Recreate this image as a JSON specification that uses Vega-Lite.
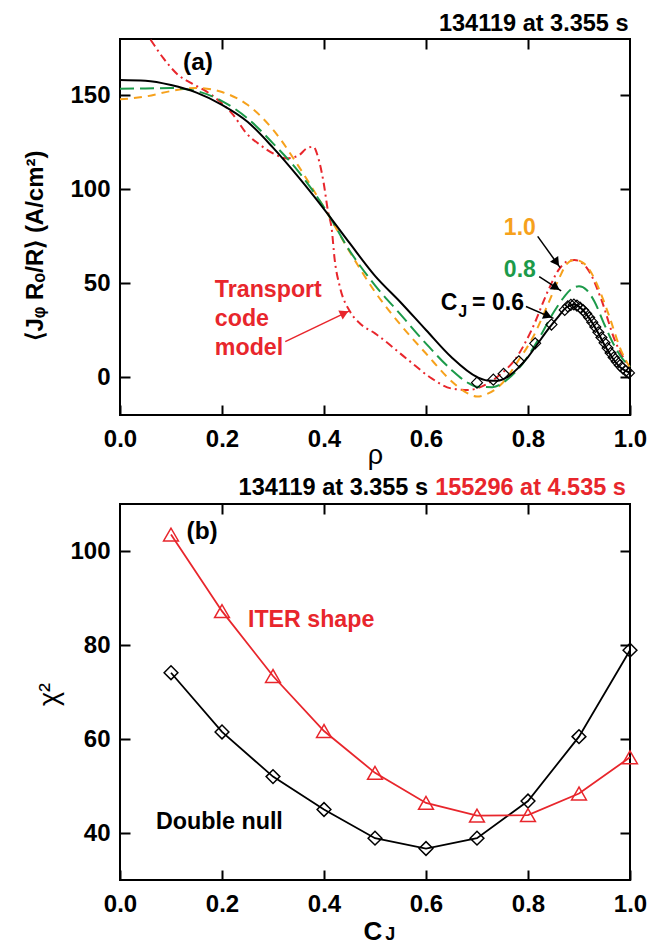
{
  "$schema": "https://vega.github.io/schema/vega-lite/v6.json",
  "background": "white",
  "padding": {"left": 22, "top": 11, "right": 15, "bottom": 0},
  "bounds": "flush",
  "spacing": 89,
  "datasets": {
    "transport": [
      {"rho": 0.04, "j": 187.5}, {"rho": 0.059, "j": 180}, {"rho": 0.085, "j": 169.8}, {"rho": 0.114, "j": 160.9},
      {"rho": 0.14, "j": 156.5}, {"rho": 0.17, "j": 152}, {"rho": 0.196, "j": 146.7}, {"rho": 0.222, "j": 139.6},
      {"rho": 0.248, "j": 129.8}, {"rho": 0.275, "j": 123.6}, {"rho": 0.3, "j": 119.2}, {"rho": 0.327, "j": 116.5},
      {"rho": 0.35, "j": 118}, {"rho": 0.366, "j": 121.8}, {"rho": 0.379, "j": 122.7}, {"rho": 0.389, "j": 116.5},
      {"rho": 0.399, "j": 104}, {"rho": 0.408, "j": 88.1}, {"rho": 0.415, "j": 79.2}, {"rho": 0.421, "j": 62.5},
      {"rho": 0.431, "j": 48.3}, {"rho": 0.451, "j": 35}, {"rho": 0.47, "j": 28.8}, {"rho": 0.5, "j": 23.4},
      {"rho": 0.565, "j": 9.3}, {"rho": 0.611, "j": -0.5}, {"rho": 0.65, "j": -5.9}, {"rho": 0.683, "j": -6.7},
      {"rho": 0.716, "j": -4}, {"rho": 0.748, "j": 2.1}, {"rho": 0.774, "j": 9.3}, {"rho": 0.807, "j": 25.2},
      {"rho": 0.84, "j": 46.5}, {"rho": 0.86, "j": 57.2}, {"rho": 0.876, "j": 61.6}, {"rho": 0.891, "j": 62.5},
      {"rho": 0.918, "j": 57.2}, {"rho": 0.944, "j": 41.2}, {"rho": 0.97, "j": 19.9}, {"rho": 1.0, "j": 5}
    ],
    "cj10": [
      {"rho": 0, "j": 147.9}, {"rho": 0.05, "j": 149.4}, {"rho": 0.1, "j": 152.3}, {"rho": 0.15, "j": 154},
      {"rho": 0.2, "j": 151.8}, {"rho": 0.25, "j": 145}, {"rho": 0.3, "j": 131.8}, {"rho": 0.35, "j": 112.4},
      {"rho": 0.4, "j": 90.3}, {"rho": 0.45, "j": 67}, {"rho": 0.5, "j": 45.5}, {"rho": 0.55, "j": 28},
      {"rho": 0.6, "j": 12.7}, {"rho": 0.65, "j": -2}, {"rho": 0.68, "j": -8.2}, {"rho": 0.7, "j": -10.2},
      {"rho": 0.72, "j": -8.8}, {"rho": 0.75, "j": -3}, {"rho": 0.78, "j": 8.5}, {"rho": 0.81, "j": 21.5},
      {"rho": 0.84, "j": 39.5}, {"rho": 0.86, "j": 52}, {"rho": 0.875, "j": 60}, {"rho": 0.89, "j": 62.5},
      {"rho": 0.905, "j": 61.5}, {"rho": 0.92, "j": 57.5}, {"rho": 0.94, "j": 46.5}, {"rho": 0.96, "j": 32},
      {"rho": 0.98, "j": 16}, {"rho": 1.0, "j": 5}
    ],
    "cj08": [
      {"rho": 0, "j": 153.6}, {"rho": 0.05, "j": 153.7}, {"rho": 0.1, "j": 153.9}, {"rho": 0.15, "j": 152.3},
      {"rho": 0.2, "j": 147}, {"rho": 0.25, "j": 137.8}, {"rho": 0.3, "j": 124.5}, {"rho": 0.35, "j": 109.5},
      {"rho": 0.4, "j": 90.5}, {"rho": 0.45, "j": 67.5}, {"rho": 0.5, "j": 49}, {"rho": 0.55, "j": 33.5},
      {"rho": 0.6, "j": 18}, {"rho": 0.65, "j": 4}, {"rho": 0.68, "j": -2.5}, {"rho": 0.7, "j": -5},
      {"rho": 0.73, "j": -5.2}, {"rho": 0.76, "j": -1}, {"rho": 0.79, "j": 7.5}, {"rho": 0.82, "j": 20},
      {"rho": 0.85, "j": 34.5}, {"rho": 0.87, "j": 42.5}, {"rho": 0.885, "j": 47}, {"rho": 0.9, "j": 48.5},
      {"rho": 0.915, "j": 46.5}, {"rho": 0.93, "j": 40.5}, {"rho": 0.95, "j": 28}, {"rho": 0.97, "j": 16.5},
      {"rho": 0.985, "j": 10}, {"rho": 1.0, "j": 5.7}
    ],
    "cj06": [
      {"rho": 0, "j": 158.2}, {"rho": 0.05, "j": 157.8}, {"rho": 0.1, "j": 155.5}, {"rho": 0.15, "j": 151.5},
      {"rho": 0.2, "j": 145}, {"rho": 0.25, "j": 136}, {"rho": 0.3, "j": 122.2}, {"rho": 0.35, "j": 106.5},
      {"rho": 0.4, "j": 89.5}, {"rho": 0.45, "j": 71.5}, {"rho": 0.5, "j": 54}, {"rho": 0.55, "j": 40},
      {"rho": 0.6, "j": 25.2}, {"rho": 0.65, "j": 10.7}, {"rho": 0.7, "j": 0.2}, {"rho": 0.72, "j": -1.6},
      {"rho": 0.74, "j": -1.8}, {"rho": 0.76, "j": 0.3}, {"rho": 0.78, "j": 4.8}, {"rho": 0.8, "j": 10.8},
      {"rho": 0.82, "j": 18.3}, {"rho": 0.84, "j": 25.8}, {"rho": 0.86, "j": 32.5}, {"rho": 0.875, "j": 37.2},
      {"rho": 0.89, "j": 38.8}, {"rho": 0.905, "j": 36.5}, {"rho": 0.92, "j": 31.5}, {"rho": 0.935, "j": 25},
      {"rho": 0.95, "j": 17.2}, {"rho": 0.965, "j": 10.6}, {"rho": 0.98, "j": 5.6}, {"rho": 1.0, "j": 2.5}
    ],
    "measured": [
      {"rho": 0.7, "j": -2.8}, {"rho": 0.732, "j": -1.2}, {"rho": 0.752, "j": 1.9}, {"rho": 0.782, "j": 8.6},
      {"rho": 0.814, "j": 18.1}, {"rho": 0.846, "j": 28.1}, {"rho": 0.872, "j": 35.9}, {"rho": 0.878, "j": 37.8},
      {"rho": 0.884, "j": 38.6}, {"rho": 0.89, "j": 38.8}, {"rho": 0.896, "j": 38.2}, {"rho": 0.902, "j": 37.2},
      {"rho": 0.908, "j": 35.8}, {"rho": 0.914, "j": 34.0}, {"rho": 0.92, "j": 31.8}, {"rho": 0.926, "j": 29.4},
      {"rho": 0.932, "j": 26.8}, {"rho": 0.938, "j": 24.0}, {"rho": 0.944, "j": 21.2}, {"rho": 0.95, "j": 18.4},
      {"rho": 0.956, "j": 15.6}, {"rho": 0.962, "j": 13.0}, {"rho": 0.968, "j": 10.6}, {"rho": 0.974, "j": 8.4},
      {"rho": 0.98, "j": 6.4}, {"rho": 0.986, "j": 4.8}, {"rho": 0.992, "j": 3.4}, {"rho": 0.998, "j": 2.4}
    ],
    "pointers": [
      {"points_to": "1.0", "rho": 0.819, "j": 75}, {"points_to": "1.0", "rho": 0.863, "j": 58.4},
      {"points_to": "0.8", "rho": 0.822, "j": 53.6}, {"points_to": "0.8", "rho": 0.865, "j": 46.0},
      {"points_to": "0.6", "rho": 0.796, "j": 37.7}, {"points_to": "0.6", "rho": 0.85, "j": 31.4},
      {"points_to": "transport", "rho": 0.324, "j": 19.0}, {"points_to": "transport", "rho": 0.451, "j": 35.5}
    ],
    "iter": [
      {"cj": 0.1, "chi2": 103.5}, {"cj": 0.2, "chi2": 87.2}, {"cj": 0.3, "chi2": 73.4}, {"cj": 0.4, "chi2": 61.7},
      {"cj": 0.5, "chi2": 52.8}, {"cj": 0.6, "chi2": 46.4}, {"cj": 0.7, "chi2": 43.7}, {"cj": 0.8, "chi2": 43.8},
      {"cj": 0.9, "chi2": 48.4}, {"cj": 1.0, "chi2": 56.1}
    ],
    "doublenull": [
      {"cj": 0.1, "chi2": 74.1}, {"cj": 0.2, "chi2": 61.5}, {"cj": 0.3, "chi2": 52}, {"cj": 0.4, "chi2": 45},
      {"cj": 0.5, "chi2": 38.9}, {"cj": 0.6, "chi2": 36.7}, {"cj": 0.7, "chi2": 38.9}, {"cj": 0.8, "chi2": 46.8},
      {"cj": 0.9, "chi2": 60.5}, {"cj": 1.0, "chi2": 78.9}
    ]
  },
  "vconcat": [
    {
      "width": 510,
      "height": 376,
      "encoding": {
        "x": {"field": "rho", "type": "quantitative", "scale": {"domain": [0, 1], "nice": false, "zero": false}, "axis": null},
        "y": {"field": "j", "type": "quantitative", "scale": {"domain": [-20, 180], "nice": false, "zero": false}, "axis": null}
      },
      "layer": [
        {
          "data": {"name": "transport"},
          "mark": {"type": "line", "color": "#e8262c", "strokeWidth": 2, "strokeDash": [8, 4, 2, 4], "clip": true, "interpolate": "monotone"},
          "encoding": {
            "x": {"field": "rho", "type": "quantitative", "scale": {"domain": [0, 1], "nice": false, "zero": false},
                  "axis": {"orient": "bottom", "values": [0, 0.2, 0.4, 0.6, 0.8, 1.0], "format": ".1f", "title": "ρ",
                           "titleFontWeight": "normal", "titleFontSize": 27, "titleX": 255, "titleY": 48, "titleBaseline": "alphabetic", "titleAlign": "center"}},
            "y": {"field": "j", "type": "quantitative", "scale": {"domain": [-20, 180], "nice": false, "zero": false},
                  "axis": {"orient": "left", "values": [0, 50, 100, 150], "title": "⟨Jᵩ Rₒ/R⟩ (A/cm²)",
                           "titleAngle": 270, "titleBaseline": "middle", "titleAlign": "center", "titleX": -85, "titleY": 206}}
          }
        },
        {"data": {"name": "cj10"}, "mark": {"type": "line", "color": "#f6a11c", "strokeWidth": 2, "strokeDash": [8, 6], "interpolate": "monotone"}},
        {"data": {"name": "cj08"}, "mark": {"type": "line", "color": "#1c9a4a", "strokeWidth": 2, "strokeDash": [14, 6], "interpolate": "monotone"}},
        {"data": {"name": "cj06"}, "mark": {"type": "line", "color": "black", "strokeWidth": 2, "interpolate": "monotone"}},
        {"data": {"name": "measured"}, "mark": {"type": "point", "shape": "diamond", "filled": false, "color": "black", "size": 120, "strokeWidth": 1.2, "opacity": 1}},
        {
          "data": {"name": "pointers"},
          "mark": {"type": "line", "strokeWidth": 1.5},
          "encoding": {
            "detail": {"field": "points_to"},
            "color": {"field": "points_to", "type": "nominal", "legend": null,
                      "scale": {"domain": ["1.0", "0.8", "0.6", "transport"], "range": ["black", "black", "black", "#e8262c"]}}
          }
        },
        {"data": {"values": [{"rho": 0.856, "j": 61.1}]}, "mark": {"type": "point", "shape": "triangle-up", "filled": true, "color": "black", "size": 100, "angle": 145, "opacity": 1}},
        {"data": {"values": [{"rho": 0.855, "j": 47.8}]}, "mark": {"type": "point", "shape": "triangle-up", "filled": true, "color": "black", "size": 100, "angle": 123, "opacity": 1}},
        {"data": {"values": [{"rho": 0.839, "j": 32.7}]}, "mark": {"type": "point", "shape": "triangle-up", "filled": true, "color": "black", "size": 100, "angle": 113, "opacity": 1}},
        {"data": {"values": [{"rho": 0.44, "j": 34.2}]}, "mark": {"type": "point", "shape": "triangle-up", "filled": true, "color": "#e8262c", "size": 100, "angle": 64, "opacity": 1}},
        {"data": {"values": [{"rho": 0.997, "j": 184.2, "label": "134119 at 3.355 s"}]}, "mark": {"type": "text", "align": "right", "baseline": "alphabetic", "fontSize": 23.5, "fontWeight": "bold", "color": "black"}, "encoding": {"text": {"field": "label"}}},
        {"data": {"values": [{"rho": 0.153, "j": 163.6, "label": "(a)"}]}, "mark": {"type": "text", "align": "center", "baseline": "alphabetic", "fontSize": 24.5, "fontWeight": "bold", "color": "black"}, "encoding": {"text": {"field": "label"}}},
        {"data": {"values": [{"rho": 0.186, "j": 43, "label": "Transport\ncode\nmodel"}]}, "mark": {"type": "text", "align": "left", "baseline": "alphabetic", "fontSize": 23.2, "fontWeight": "bold", "color": "#e8262c", "lineBreak": "\n", "lineHeight": 29}, "encoding": {"text": {"field": "label"}}},
        {"data": {"values": [{"rho": 0.784, "j": 75.5, "label": "1.0"}]}, "mark": {"type": "text", "align": "center", "baseline": "alphabetic", "fontSize": 23, "fontWeight": "bold", "color": "#f6a11c"}, "encoding": {"text": {"field": "label"}}},
        {"data": {"values": [{"rho": 0.784, "j": 53.6, "label": "0.8"}]}, "mark": {"type": "text", "align": "center", "baseline": "alphabetic", "fontSize": 23, "fontWeight": "bold", "color": "#1c9a4a"}, "encoding": {"text": {"field": "label"}}},
        {"data": {"values": [{"rho": 0.629, "j": 36.1, "label": "C"}]}, "mark": {"type": "text", "align": "left", "baseline": "alphabetic", "fontSize": 23, "fontWeight": "bold", "color": "black"}, "encoding": {"text": {"field": "label"}}},
        {"data": {"values": [{"rho": 0.663, "j": 32.3, "label": "J"}]}, "mark": {"type": "text", "align": "left", "baseline": "alphabetic", "fontSize": 16, "fontWeight": "bold", "color": "black"}, "encoding": {"text": {"field": "label"}}},
        {"data": {"values": [{"rho": 0.792, "j": 36.1, "label": "= 0.6"}]}, "mark": {"type": "text", "align": "right", "baseline": "alphabetic", "fontSize": 23, "fontWeight": "bold", "color": "black"}, "encoding": {"text": {"field": "label"}}},
        {
          "data": {"name": "cj06"},
          "mark": {"type": "point", "opacity": 0},
          "encoding": {
            "x": {"field": "rho", "type": "quantitative", "scale": {"domain": [0, 1], "nice": false, "zero": false},
                  "axis": {"orient": "top", "values": [0.2, 0.4, 0.6, 0.8], "labels": false, "title": null}},
            "y": {"field": "j", "type": "quantitative", "scale": {"domain": [-20, 180], "nice": false, "zero": false},
                  "axis": {"orient": "right", "values": [0, 50, 100, 150], "labels": false, "title": null}}
          }
        }
      ]
    },
    {
      "width": 510,
      "height": 376,
      "encoding": {
        "x": {"field": "cj", "type": "quantitative", "scale": {"domain": [0, 1], "nice": false, "zero": false}, "axis": null},
        "y": {"field": "chi2", "type": "quantitative", "scale": {"domain": [30, 110], "nice": false, "zero": false}, "axis": null}
      },
      "layer": [
        {
          "data": {"name": "doublenull"},
          "mark": {"type": "line", "color": "black", "strokeWidth": 1.8},
          "encoding": {
            "x": {"field": "cj", "type": "quantitative", "scale": {"domain": [0, 1], "nice": false, "zero": false},
                  "axis": {"orient": "bottom", "values": [0, 0.2, 0.4, 0.6, 0.8, 1.0], "format": ".1f", "title": "C",
                           "titleFontSize": 26, "titleX": 252.5, "titleY": 59.5, "titleBaseline": "alphabetic", "titleAlign": "center"}},
            "y": {"field": "chi2", "type": "quantitative", "scale": {"domain": [30, 110], "nice": false, "zero": false},
                  "axis": {"orient": "left", "values": [40, 60, 80, 100], "title": "χ²", "titleFontWeight": "normal", "titleFontSize": 27,
                           "titleAngle": 270, "titleBaseline": "middle", "titleAlign": "center", "titleX": -71, "titleY": 190}}
          }
        },
        {"data": {"name": "doublenull"}, "mark": {"type": "point", "shape": "diamond", "filled": false, "color": "black", "size": 190, "strokeWidth": 1.5, "opacity": 1}},
        {"data": {"name": "iter"}, "mark": {"type": "line", "color": "#e8262c", "strokeWidth": 1.8}},
        {"data": {"name": "iter"}, "mark": {"type": "point", "shape": "triangle-up", "filled": false, "color": "#e8262c", "size": 220, "strokeWidth": 1.5, "opacity": 1}},
        {"data": {"values": [{"cj": 0.161, "chi2": 102.5, "label": "(b)"}]}, "mark": {"type": "text", "align": "center", "baseline": "alphabetic", "fontSize": 24.5, "fontWeight": "bold", "color": "black"}, "encoding": {"text": {"field": "label"}}},
        {"data": {"values": [{"cj": 0.251, "chi2": 83.9, "label": "ITER shape"}]}, "mark": {"type": "text", "align": "left", "baseline": "alphabetic", "fontSize": 23.2, "fontWeight": "bold", "color": "#e8262c"}, "encoding": {"text": {"field": "label"}}},
        {"data": {"values": [{"cj": 0.0706, "chi2": 40.9, "label": "Double null"}]}, "mark": {"type": "text", "align": "left", "baseline": "alphabetic", "fontSize": 23.3, "fontWeight": "bold", "color": "black"}, "encoding": {"text": {"field": "label"}}},
        {"data": {"values": [{"cj": 0.604, "chi2": 111.9, "label": "134119 at 3.355 s"}]}, "mark": {"type": "text", "align": "right", "baseline": "alphabetic", "fontSize": 23.5, "fontWeight": "bold", "color": "black"}, "encoding": {"text": {"field": "label"}}},
        {"data": {"values": [{"cj": 0.992, "chi2": 111.9, "label": "155296 at 4.535 s"}]}, "mark": {"type": "text", "align": "right", "baseline": "alphabetic", "fontSize": 23.5, "fontWeight": "bold", "color": "#e8262c"}, "encoding": {"text": {"field": "label"}}},
        {"data": {"values": [{"cj": 0.52, "chi2": 17.2, "label": "J"}]}, "mark": {"type": "text", "align": "left", "baseline": "alphabetic", "fontSize": 18, "fontWeight": "bold", "color": "black"}, "encoding": {"text": {"field": "label"}}},
        {
          "data": {"name": "iter"},
          "mark": {"type": "point", "opacity": 0},
          "encoding": {
            "x": {"field": "cj", "type": "quantitative", "scale": {"domain": [0, 1], "nice": false, "zero": false},
                  "axis": {"orient": "top", "values": [0.2, 0.4, 0.6, 0.8], "labels": false, "title": null}},
            "y": {"field": "chi2", "type": "quantitative", "scale": {"domain": [30, 110], "nice": false, "zero": false},
                  "axis": {"orient": "right", "values": [40, 60, 80, 100], "labels": false, "title": null}}
          }
        }
      ]
    }
  ],
  "config": {
    "font": "Liberation Sans, sans-serif",
    "view": {"stroke": "black", "strokeWidth": 2},
    "text": {"font": "Liberation Sans, sans-serif"},
    "axis": {
      "domain": false, "grid": false, "ticks": true, "tickSize": -10, "tickWidth": 2, "tickColor": "black",
      "labelFont": "Liberation Sans, sans-serif", "labelFontSize": 24, "labelFontWeight": "bold", "labelColor": "black",
      "labelFlush": false, "labelOverlap": false,
      "titleFont": "Liberation Sans, sans-serif", "titleFontSize": 24, "titleFontWeight": "bold", "titleColor": "black"
    },
    "axisX": {"labelPadding": 22},
    "axisY": {"labelPadding": 20}
  }
}
